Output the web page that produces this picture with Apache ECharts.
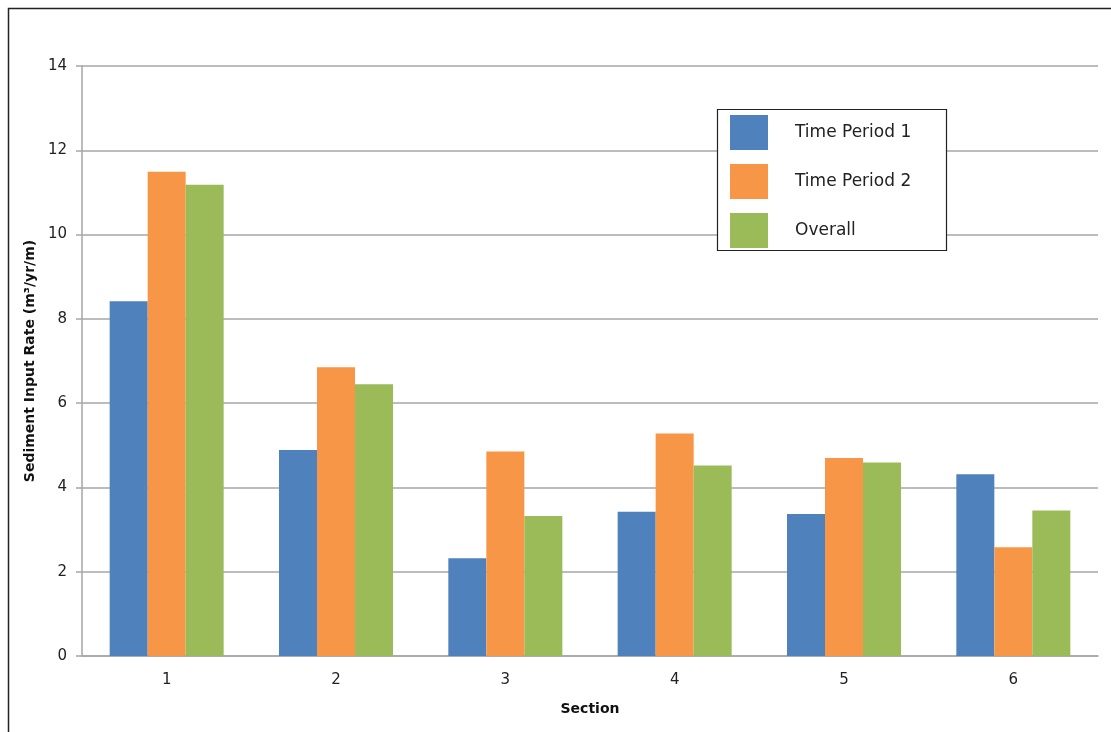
<!DOCTYPE html>
<html>
<head>
<meta charset="utf-8">
<script src="https://cdn.jsdelivr.net/npm/echarts@6/dist/echarts.min.js"></script>
<style>
  html, body { margin: 0; padding: 0; background: #fff; }
  #chart { width: 1111px; height: 732px; }
</style>
</head>
<body>
<div id="chart"></div>
<script>
// sections along the x axis
const sections = ['1', '2', '3', '4', '5', '6']
// sediment input rate, m3/yr/m
const period1 = [8.42, 4.89, 2.32, 3.42, 3.37, 4.31]
const period2 = [11.49, 6.85, 4.85, 5.28, 4.70, 2.58]
const overall = [11.18, 6.45, 3.32, 4.52, 4.59, 3.45]
const seriesNames = ['Time Period 1', 'Time Period 2', 'Overall']

const colors = ['#4F81BD', '#F79646', '#9BBB59']
const fontFamily = '"DejaVu Sans", sans-serif'

const myChart = echarts.init(document.getElementById('chart'))

function bar (name, data, color) {
  return {
    name: name,
    type: 'bar',
    data: data,
    barWidth: 38,
    barGap: '0%',
    itemStyle: { color: color },
    emphasis: { disabled: true }
  }
}

const option = {
  animation: false,
  color: colors,
  textStyle: { fontFamily: fontFamily },
  graphic: [
    // outer frame (top and left edges visible in the reference)
    {
      type: 'rect',
      shape: { x: 8.5, y: 8.5, width: 1110, height: 730 },
      style: { fill: 'none', stroke: '#222', lineWidth: 1.5 },
      silent: true
    },
    // legend box
    {
      type: 'rect',
      shape: { x: 717.5, y: 109.5, width: 229, height: 141 },
      style: { fill: '#fff', stroke: '#222', lineWidth: 1.2 },
      z: 5,
      silent: true
    }
  ],
  legend: {
    orient: 'vertical',
    left: 730,
    top: 115,
    padding: 0,
    itemWidth: 38,
    itemHeight: 35,
    itemGap: 14,
    z: 10,
    selectedMode: false,
    icon: 'rect',
    data: seriesNames,
    textStyle: {
      fontFamily: fontFamily,
      fontSize: 17,
      color: '#222',
      padding: [0, 0, 0, 22]
    }
  },
  grid: {
    left: 82,
    right: 13,
    top: 66,
    bottom: 76
  },
  xAxis: {
    type: 'category',
    data: sections,
    name: 'Section',
    nameLocation: 'middle',
    nameGap: 46,
    nameTextStyle: {
      fontFamily: fontFamily,
      fontSize: 14,
      fontWeight: 'bold',
      color: '#111'
    },
    axisLine: { lineStyle: { color: '#a6a6a6', width: 1.5 } },
    axisTick: { show: false },
    axisLabel: {
      margin: 17,
      fontSize: 15,
      color: '#222',
      fontFamily: fontFamily
    }
  },
  yAxis: {
    type: 'value',
    min: 0,
    max: 14,
    interval: 2,
    name: 'Sediment Input Rate (m³/yr/m)',
    nameLocation: 'middle',
    nameGap: 43,
    nameTextStyle: {
      fontFamily: fontFamily,
      fontSize: 14,
      fontWeight: 'bold',
      color: '#111'
    },
    axisLine: { show: true, lineStyle: { color: '#a6a6a6', width: 1.5 } },
    axisTick: { show: true, length: 6, lineStyle: { color: '#a6a6a6', width: 1.5 } },
    splitLine: { lineStyle: { color: '#a6a6a6', width: 1.5 } },
    axisLabel: {
      margin: 15,
      fontSize: 15,
      color: '#222',
      fontFamily: fontFamily
    }
  },
  series: [
    bar(seriesNames[0], period1, colors[0]),
    bar(seriesNames[1], period2, colors[1]),
    bar(seriesNames[2], overall, colors[2])
  ]
}

myChart.setOption(option)
</script>
</body>
</html>
